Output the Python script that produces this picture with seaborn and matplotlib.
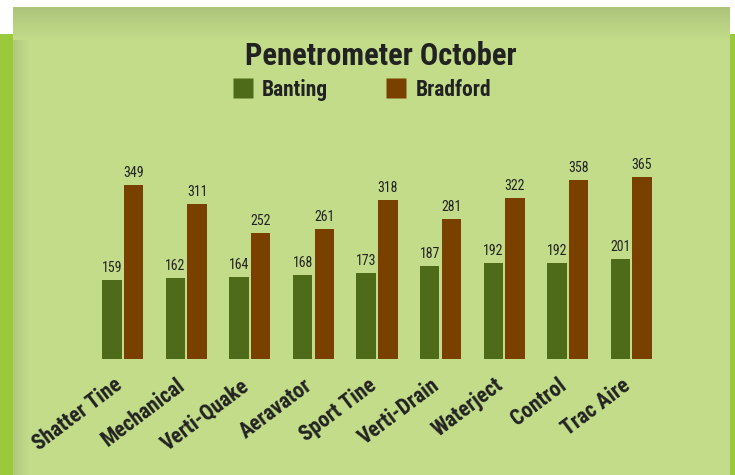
import matplotlib
matplotlib.use("Agg")
import matplotlib.pyplot as plt
import matplotlib.transforms as mtransforms
import seaborn as sns
import numpy as np
import pandas as pd
from matplotlib.patches import Rectangle
from matplotlib.lines import Line2D

categories = ["Shatter Tine", "Mechanical", "Verti-Quake", "Aeravator", "Sport Tine",
              "Verti-Drain", "Waterject", "Control", "Trac Aire"]
banting = [159, 162, 164, 168, 173, 187, 192, 192, 201]
bradford = [349, 311, 252, 261, 318, 281, 322, 358, 365]
series_names = ["Banting", "Bradford"]
title = "Penetrometer October"

df = pd.DataFrame({
    "Treatment": categories * 2,
    "Site": [series_names[0]] * len(categories) + [series_names[1]] * len(categories),
    "Value": banting + bradford,
})

GREEN = "#4d6b19"
BROWN = "#7a4000"
PANEL = "#c3dc8a"
LIME = "#9bc93c"
TXT = "#222222"

sns.set_theme(style="white")
FONT = ["Roboto Condensed", "DejaVu Sans"]
plt.rcParams["font.family"] = FONT

W, H = 735, 475
fig = plt.figure(figsize=(W / 100, H / 100), dpi=100)
fig.patch.set_facecolor("white")

# background decoration
bg = fig.add_axes([0, 0, 1, 1], zorder=-10)
bg.set_xlim(0, W)
bg.set_ylim(H, 0)
bg.axis("off")
bg.add_patch(Rectangle((0, 34), W, H - 34, color=LIME, lw=0))
bg.add_patch(Rectangle((13, 7), 730 - 13, H - 7, color=PANEL, lw=0))
top = np.array([0xab, 0xc4, 0x7a]) / 255
pan = np.array([0xc3, 0xdc, 0x8a]) / 255
grad = np.linspace(0, 1, 40)[:, None]
img = top[None, None, :] * (1 - grad[:, :, None]) + pan[None, None, :] * grad[:, :, None]
img = np.repeat(img, 2, axis=1)
bg.imshow(img, extent=(13, 730, 40, 7), aspect="auto", zorder=1, interpolation="bilinear")
left = np.array([0xb0, 0xc8, 0x80]) / 255
g2 = np.linspace(0, 1, 20)[None, :]
img2 = left[None, None, :] * (1 - g2[:, :, None]) + pan[None, None, :] * g2[:, :, None]
img2 = np.repeat(img2, 2, axis=0)
bg.imshow(img2, extent=(13, 30, H, 40), aspect="auto", zorder=1, interpolation="bilinear")

# main chart axes
ax = fig.add_axes([91 / W, (H - 359) / H, (663 - 91) / W, 200 / H])
ax.patch.set_alpha(0)
sns.barplot(data=df, x="Treatment", y="Value", hue="Site", order=categories,
            hue_order=series_names, palette=[GREEN, BROWN], width=0.68, gap=0.1,
            saturation=1, ax=ax, legend=False, edgecolor="none", linewidth=0)
ax.set_xlim(-0.5, len(categories) - 0.5)
ax.set_ylim(0, 400)
for c in ax.containers:
    ax.bar_label(c, padding=3.5, fontsize=10, color=TXT, family=FONT)
ax.set_xlabel("")
ax.set_ylabel("")
ax.set_yticks([])
for s in ax.spines.values():
    s.set_visible(False)
ax.tick_params(axis="x", length=0, pad=11)
ax.set_xticks(range(len(categories)))
ax.set_xticklabels(categories, rotation=37, ha="right", rotation_mode="anchor",
                   fontsize=15.5, fontweight="bold", color=TXT)
shift = mtransforms.ScaledTranslation(-0.10, 0, fig.dpi_scale_trans)
for lab in ax.get_xticklabels():
    lab.set_transform(lab.get_transform() + shift)

fig.text(381 / W, 1 - 56 / H, title, ha="center", va="center", fontsize=22,
         fontweight="bold", color=TXT)

handles = [Line2D([], [], marker="s", linestyle="none", markersize=14,
                  markerfacecolor=col, markeredgecolor="none") for col in (GREEN, BROWN)]
fig.legend(handles, series_names, loc="center", bbox_to_anchor=(362 / W, 1 - 90 / H),
           ncol=2, frameon=False, handletextpad=0.45, columnspacing=2.7,
           prop={"family": FONT, "weight": "bold", "size": 15.5}, labelcolor=TXT,
           handlelength=0.9)

fig.savefig("out.png", dpi=100)
